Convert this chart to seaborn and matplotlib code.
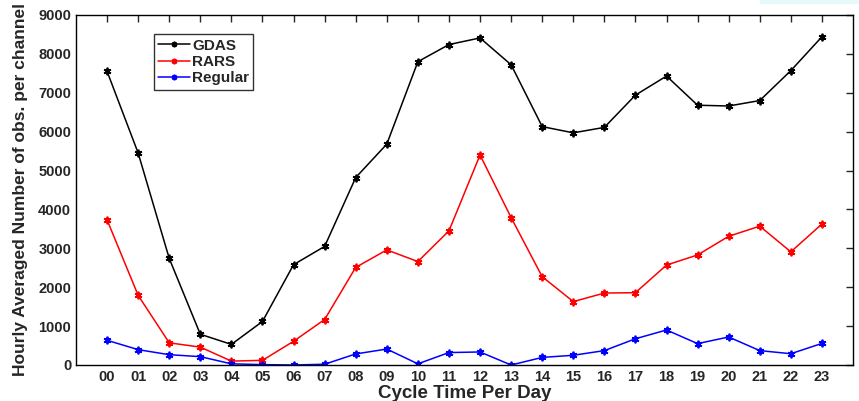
import numpy as np
import pandas as pd
import matplotlib
matplotlib.use("Agg")
import matplotlib.pyplot as plt
import seaborn as sns

hours = ["00", "01", "02", "03", "04", "05", "06", "07", "08", "09", "10", "11",
         "12", "13", "14", "15", "16", "17", "18", "19", "20", "21", "22", "23"]
gdas = [7550, 5450, 2740, 790, 530, 1120, 2580, 3050, 4820, 5680, 7800, 8240,
        8410, 7720, 6130, 5970, 6110, 6940, 7430, 6680, 6660, 6800, 7570, 8440]
rars = [3730, 1790, 570, 460, 100, 120, 610, 1170, 2510, 2960, 2660, 3450,
        5400, 3790, 2270, 1630, 1850, 1860, 2570, 2830, 3310, 3570, 2910, 3625]
regular = [635, 395, 265, 215, 30, 10, 0, 20, 285, 410, 30, 320,
           335, 0, 195, 250, 370, 675, 900, 550, 720, 370, 290, 555]
yticks = [0, 1000, 2000, 3000, 4000, 5000, 6000, 7000, 8000, 9000]

x = np.arange(len(hours))
df = pd.concat([
    pd.DataFrame({"x": x, "value": gdas, "series": "GDAS"}),
    pd.DataFrame({"x": x, "value": rars, "series": "RARS"}),
    pd.DataFrame({"x": x, "value": regular, "series": "Regular"}),
])

sns.set_style("white")
plt.rcParams["font.family"] = ["Liberation Sans", "DejaVu Sans"]
plt.rcParams["font.weight"] = "bold"

fig = plt.figure(figsize=(8.59, 4.01), dpi=100)
ax = fig.add_axes([76 / 859, 36 / 401, (853 - 76) / 859, (365 - 15) / 401])

sns.lineplot(data=df, x="x", y="value", hue="series",
             palette={"GDAS": "black", "RARS": "red", "Regular": "blue"},
             marker=(6, 2, 0), markersize=5.5, markeredgewidth=1.3,
             linewidth=1.1, ax=ax, legend=True)
for ln in ax.lines:
    ln.set_markeredgecolor(ln.get_color())
    ln.set_markerfacecolor(ln.get_color())

ax.set_xlim(-1, 24)
ax.set_ylim(0, 9000)
ax.set_xticks(x)
ax.set_xticklabels(hours)
ax.set_yticks(yticks)
ax.set_yticklabels([str(v) for v in yticks])
ax.tick_params(direction="in", length=5, width=1, top=True, right=True,
               labelsize=10.5, pad=3.5)
ax.tick_params(labeltop=False, labelright=False)
for lab in ax.get_xticklabels() + ax.get_yticklabels():
    lab.set_fontweight("bold")
for s in ax.spines.values():
    s.set_color("black")
    s.set_linewidth(1.0)

ax.set_xlabel("Cycle Time Per Day", fontsize=13.5, fontweight="bold", labelpad=1)
ax.set_ylabel("Hourly Averaged Number of obs. per channel", fontsize=12.5,
              fontweight="bold", labelpad=7)

leg = ax.legend(loc="upper left", bbox_to_anchor=(0.10, 0.945), frameon=True,
                fancybox=False, edgecolor="black", fontsize=11,
                handlelength=2.1, borderpad=0.3, labelspacing=0.15,
                handletextpad=0.1, borderaxespad=0)
leg.get_frame().set_linewidth(1.0)
for t in leg.get_texts():
    t.set_fontweight("bold")
for h in leg.legend_handles:
    h.set_markersize(4)
    h.set_markeredgecolor(h.get_color())
    h.set_markerfacecolor(h.get_color())

fig.patches.append(plt.Rectangle((760 / 859, 398 / 401), 99 / 859, 3 / 401,
                                 transform=fig.transFigure, color="#e6f9fb",
                                 zorder=0))

fig.savefig("out.png", dpi=100)
